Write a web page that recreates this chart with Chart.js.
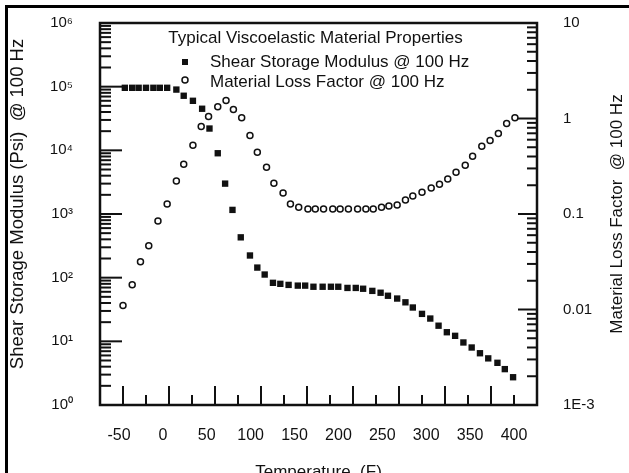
<!DOCTYPE html>
<html>
<head>
<meta charset="utf-8">
<script src="https://cdn.jsdelivr.net/npm/chart.js@4.4.0/dist/chart.umd.min.js"></script>
<style>
  html, body { margin: 0; padding: 0; background: #fff; overflow: hidden; }
  #wrap { position: relative; width: 629px; height: 490px; }
  #bingkai { position: absolute; left: 5px; top: 5px; right: 0; bottom: 0; border-left: 3px solid #000; border-top: 3px solid #000; pointer-events: none; }
</style>
</head>
<body>
<div id="wrap">
  <canvas id="grafik" width="629" height="490"></canvas>
  <div id="bingkai"></div>
</div>
<script>
// suhu (F) dan nilai yang dibaca dari gambar
const suhuModulus = [-48, -40, -33, -25, -17, -10, -2, 8, 16, 26, 36, 44, 53, 61, 69, 78,
  88, 96, 104, 113, 121, 130, 140, 148, 157, 167, 176, 184, 194, 203, 211, 221, 230, 238,
  248, 257, 265, 275, 284, 293, 302, 311, 320, 329, 338, 347, 357, 365, 374];
const nilaiModulus = [96000, 96000, 96000, 96000, 96000, 96000, 96000, 90000, 72000, 60000,
  45000, 22000, 9000, 3000, 1160, 430, 223, 144, 112, 83, 80, 77, 75, 75, 72, 72, 72, 72,
  69, 69, 67, 62, 58, 52, 47, 41, 34, 27, 22.8, 17.6, 13.9, 12.2, 9.6, 8.0, 6.5, 5.4, 4.6,
  3.66, 2.73];

const suhuLoss = [-50, -40, -31, -22, -12, -2, 8, 16, 26, 35, 43, 53, 62, 70, 79, 88, 96,
  106, 114, 124, 132, 141, 151, 159, 168, 178, 186, 195, 205, 214, 222, 231, 239, 248, 257,
  265, 275, 285, 294, 303, 312, 322, 330, 340, 349, 358, 367, 376];
const nilaiLoss = [0.011, 0.0182, 0.0316, 0.0464, 0.0846, 0.127, 0.221, 0.332, 0.524, 0.826,
  1.05, 1.33, 1.54, 1.24, 1.02, 0.665, 0.443, 0.309, 0.21, 0.166, 0.127, 0.118,
  0.113, 0.113, 0.113, 0.113, 0.113, 0.113, 0.113, 0.113, 0.113,
  0.118, 0.121, 0.124, 0.140, 0.154, 0.169, 0.187, 0.205, 0.232, 0.274, 0.324, 0.402,
  0.511, 0.590, 0.698, 0.887, 1.02];

const labelSuhu = [-50, 0, 50, 100, 150, 200, 250, 300, 350, 400];
const labelModulus = ['10⁰', '10¹', '10²', '10³', '10⁴', '10⁵', '10⁶'];
const labelLoss = ['1E-3', '0.01', '0.1', '1', '10'];

const judulLegenda = 'Typical Viscoelastic Material Properties';
const judulKiri = 'Shear Storage Modulus (Psi)  @ 100 Hz';
const judulKanan = 'Material Loss Factor  @ 100 Hz';
const FONT = '"Liberation Sans", Arial, sans-serif';

Chart.defaults.font.family = FONT;
Chart.defaults.color = '#111';

function pangkatSepuluh(v) {
  const l = Math.log10(v);
  return Math.abs(l - Math.round(l)) < 1e-6;
}
function mantisBulat(v) {
  const m = v / Math.pow(10, Math.floor(Math.log10(v) + 1e-9));
  return Math.abs(m - Math.round(m)) < 1e-6;
}
function garis(ctx, x1, y1, x2, y2) {
  ctx.beginPath(); ctx.moveTo(x1, y1); ctx.lineTo(x2, y2); ctx.stroke();
}
function teksTegak(ctx, teks, x, y, ukuran) {
  ctx.save();
  ctx.translate(x, y);
  ctx.rotate(-Math.PI / 2);
  ctx.font = ukuran + 'px ' + FONT;
  ctx.fillStyle = '#111';
  ctx.textAlign = 'center';
  ctx.textBaseline = 'middle';
  ctx.fillText(teks, 0, 0);
  ctx.restore();
}

// tick ke arah dalam + bingkai + judul sumbu y
const tandaSumbu = {
  id: 'tandaSumbu',
  afterDraw(chart) {
    const { ctx, chartArea: a, scales } = chart;
    ctx.save();
    ctx.strokeStyle = '#111';
    ctx.lineWidth = 2;
    scales.x.ticks.forEach(t => {
      const px = scales.x.getPixelForValue(t.value);
      garis(ctx, px, a.bottom, px, a.bottom - (t.value % 50 === 0 ? 19 : 10));
    });
    scales.y.ticks.forEach(t => {
      if (!mantisBulat(t.value)) return;
      const py = scales.y.getPixelForValue(t.value);
      garis(ctx, a.left, py, a.left + (pangkatSepuluh(t.value) ? 22 : 11), py);
    });
    scales.y1.ticks.forEach(t => {
      if (!mantisBulat(t.value)) return;
      const py = scales.y1.getPixelForValue(t.value);
      garis(ctx, a.right, py, a.right - (pangkatSepuluh(t.value) ? 19 : 10), py);
    });
    ctx.lineWidth = 2.5;
    ctx.strokeRect(a.left, a.top, a.right - a.left, a.bottom - a.top);
    ctx.restore();

    const tengah = (a.top + a.bottom) / 2;
    teksTegak(ctx, judulKiri, 18, tengah - 10, 18.5);
    teksTegak(ctx, judulKanan, 617, tengah, 17);
  }
};

const legendaDalam = {
  id: 'legendaDalam',
  afterDatasetsDraw(chart) {
    const { ctx, chartArea: a } = chart;
    const ds = chart.data.datasets;
    ctx.save();
    ctx.fillStyle = '#111';
    ctx.strokeStyle = '#111';
    ctx.font = '17px ' + FONT;
    ctx.textBaseline = 'middle';
    ctx.textAlign = 'center';
    ctx.fillText(judulLegenda, (a.left + a.right) / 2 - 3, a.top + 15);
    ctx.textAlign = 'left';
    ctx.fillRect(a.left + 82, a.top + 36, 6, 6);
    ctx.fillText(ds[0].label, a.left + 110, a.top + 39);
    ctx.lineWidth = 1.5;
    ctx.beginPath();
    ctx.arc(a.left + 85, a.top + 57, 3, 0, 2 * Math.PI);
    ctx.stroke();
    ctx.fillText(ds[1].label, a.left + 110, a.top + 59);
    ctx.restore();
  }
};

// jarak label dari sumbu lewat tickLength (tick-nya sendiri tidak digambar)
const jarakLabel = (len) => ({ display: false, drawTicks: true, tickLength: len });

new Chart(document.getElementById('grafik'), {
  type: 'scatter',
  data: {
    datasets: [
      {
        label: 'Shear Storage Modulus @ 100 Hz',
        data: suhuModulus.map((s, i) => ({ x: s, y: nilaiModulus[i] })),
        yAxisID: 'y',
        pointStyle: 'rect',
        pointRadius: 4.5,
        backgroundColor: '#111',
        borderColor: '#111',
        borderWidth: 0
      },
      {
        label: 'Material Loss Factor @ 100 Hz',
        data: suhuLoss.map((s, i) => ({ x: s, y: nilaiLoss[i] })),
        yAxisID: 'y1',
        pointStyle: 'circle',
        pointRadius: 3,
        backgroundColor: 'rgba(0,0,0,0)',
        borderColor: '#111',
        borderWidth: 1.5
      }
    ]
  },
  options: {
    responsive: false,
    animation: false,
    layout: { padding: { top: 23, left: 0, right: 0, bottom: 0 } },
    plugins: { legend: { display: false }, tooltip: { enabled: false } },
    scales: {
      x: {
        type: 'linear', min: -75, max: 400, weight: 0,
        ticks: { stepSize: 25, display: false },
        grid: { display: false },
        border: { display: false },
        afterFit(s) { s.height = 0; }
      },
      xl: {
        type: 'linear', position: 'bottom', min: -71.6, max: 426.2, weight: 1,
        afterBuildTicks(s) { s.ticks = labelSuhu.map(v => ({ value: v })); },
        ticks: { autoSkip: false, maxRotation: 0, padding: 0, font: { size: 16 } },
        grid: jarakLabel(21),
        border: { display: false },
        title: { display: true, text: 'Temperature  (F)', font: { size: 17 }, padding: { top: 0, bottom: 7 } },
        afterFit(s) { s.height = 85; }
      },
      y: {
        type: 'logarithmic', position: 'left', min: 1, max: 1e6,
        ticks: {
          autoSkip: false, padding: 0, font: { size: 15 },
          callback: v => pangkatSepuluh(v) ? labelModulus[Math.round(Math.log10(v))] : ''
        },
        grid: jarakLabel(27),
        border: { display: false },
        afterFit(s) { s.width = 100; }
      },
      y1: {
        type: 'logarithmic', position: 'right', min: 1e-3, max: 10,
        ticks: {
          autoSkip: false, padding: 0, font: { size: 15 },
          callback: v => pangkatSepuluh(v) ? labelLoss[Math.round(Math.log10(v)) + 3] : ''
        },
        grid: jarakLabel(26),
        border: { display: false },
        afterFit(s) { s.width = 92; }
      }
    }
  },
  plugins: [legendaDalam, tandaSumbu]
});
</script>
</body>
</html>
